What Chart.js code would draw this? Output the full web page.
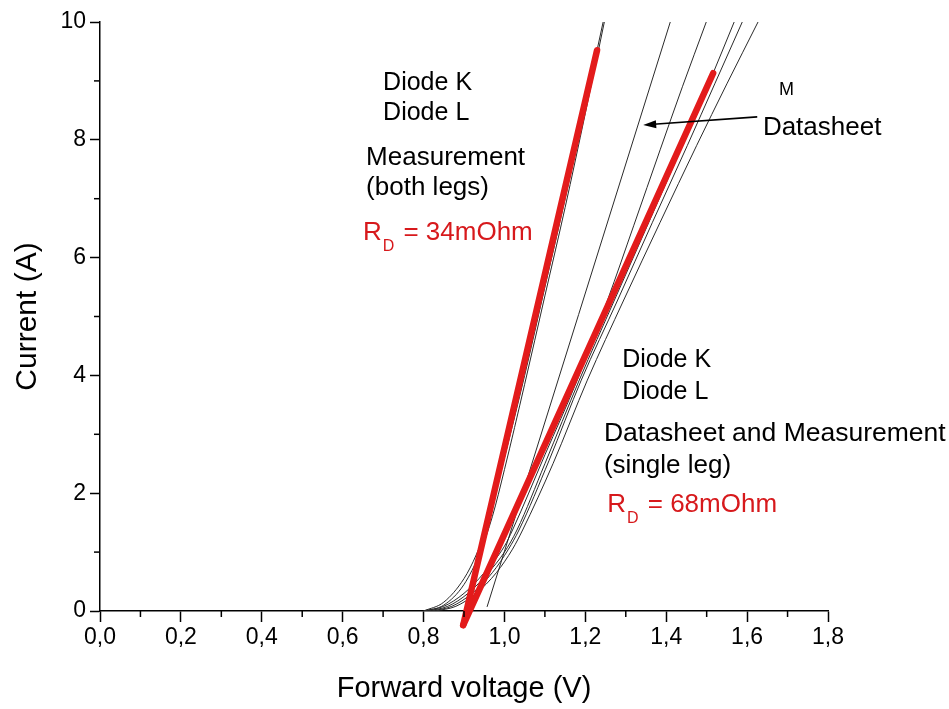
<!DOCTYPE html>
<html><head><meta charset="utf-8">
<script src="https://cdn.jsdelivr.net/npm/chart.js@4.4.1/dist/chart.umd.min.js"></script>
<style>html,body{margin:0;padding:0;background:#fff;}#wrap{width:949px;height:709px;position:relative}</style>
</head><body><div id="wrap"><canvas id="c" width="949" height="709"></canvas></div>
<script>
// ---- Data (forward voltage V, current A) ----
const fitBothLegsV   = [0.898, 1.229];
const fitBothLegsI   = [-0.24, 9.52];
const fitSingleLegV  = [0.898, 1.516];
const fitSingleLegI  = [-0.24, 9.13];

const bothKV = [0.80,0.85,0.90,0.93,0.96,1.00,1.05,1.10,1.15,1.20,1.244];
const bothKI = [0,0.15,0.55,0.95,1.5,2.6,4.0,5.5,7.0,8.6,10];
const bothLV = [0.80,0.85,0.90,0.94,0.97,1.00,1.05,1.10,1.15,1.20,1.247];
const bothLI = [0,0.1,0.45,1.0,1.6,2.4,3.85,5.35,6.85,8.45,10];

const datasheetMV = [0.957, 1.41];
const datasheetMI = [0.07, 10];

const single1V = [0.80,0.85,0.90,0.95,1.00,1.02,1.10,1.18,1.255,1.32,1.385,1.44,1.499];
const single1I = [0,0.08,0.3,0.65,1.1,1.375,2.65,3.92,5.28,6.55,7.83,8.9,10];
const single2V = [0.81,0.86,0.91,0.96,1.00,1.031,1.10,1.185,1.272,1.357,1.44,1.505,1.568];
const single2I = [0,0.08,0.3,0.65,1.0,1.375,2.5,3.92,5.28,6.6,7.9,8.95,10];
const single3V = [0.82,0.87,0.92,0.97,1.01,1.036,1.11,1.19,1.28,1.366,1.452,1.52,1.588];
const single3I = [0,0.08,0.3,0.65,1.05,1.375,2.55,3.92,5.28,6.6,7.9,8.95,10];
const single4V = [0.83,0.88,0.93,0.98,1.02,1.045,1.12,1.205,1.295,1.385,1.475,1.55,1.627];
const single4I = [0,0.08,0.3,0.65,1.05,1.375,2.5,3.92,5.28,6.6,7.9,8.95,10];

const xMin = 0, xMax = 1.8, xStep = 0.2;
const yMin = 0, yMax = 10, yStep = 2;

// ---- Annotation texts (anchored in data coordinates) ----
const FONT = '"Liberation Sans", Arial, Helvetica, sans-serif';
const RED_TXT = '#d7191c';
const labels = [
  {text:'Diode K', x:0.700, y:8.96, size:25, color:'#000'},
  {text:'Diode L', x:0.700, y:8.455, size:25, color:'#000'},
  {text:'Measurement', x:0.658, y:7.69, size:26, color:'#000'},
  {text:'(both legs)', x:0.658, y:7.18, size:26, color:'#000'},
  {text:'R', sub:'D', rest:' = 34mOhm', x:0.650, y:6.42, size:26, color:RED_TXT},
  {text:'M', x:1.679, y:8.85, size:18, color:'#000'},
  {text:'Datasheet', x:1.639, y:8.2, size:26, color:'#000'},
  {text:'Diode K', x:1.291, y:4.26, size:25, color:'#000'},
  {text:'Diode L', x:1.291, y:3.72, size:25, color:'#000'},
  {text:'Datasheet and Measurement', x:1.246, y:3.005, size:26.5, color:'#000'},
  {text:'(single leg)', x:1.246, y:2.46, size:26, color:'#000'},
  {text:'R', sub:'D', rest:' = 68mOhm', x:1.254, y:1.80, size:26, color:RED_TXT}
];
const arrow = {fromX:1.625, fromY:8.39, toX:1.343, toY:8.25};

function pts(vs, is){ return vs.map((v,i)=>({x:v, y:is[i]})); }

const RED = '#e31b1b';
const THIN = '#2a2a2a';
function redSet(v,i){ return {data:pts(v,i), borderColor:RED, borderWidth:6.5, pointRadius:0, tension:0, clip:false, borderCapStyle:'round'}; }
function thinSet(v,i){ return {data:pts(v,i), borderColor:THIN, borderWidth:1, pointRadius:0, cubicInterpolationMode:'monotone'}; }

const datasets = [
  redSet(fitBothLegsV, fitBothLegsI),
  redSet(fitSingleLegV, fitSingleLegI),
  thinSet(bothKV, bothKI),
  thinSet(bothLV, bothLI),
  thinSet(datasheetMV, datasheetMI),
  thinSet(single1V, single1I),
  thinSet(single2V, single2I),
  thinSet(single3V, single3I),
  thinSet(single4V, single4I)
];

const minorTicks = {
  id:'minorTicks',
  afterDraw(chart){
    const {ctx} = chart; const xs = chart.scales.x, ys = chart.scales.y;
    ctx.save(); ctx.strokeStyle='#000'; ctx.lineWidth=1.5;
    const xt = xs.ticks.map(t=>t.value);
    for (let k=0;k<xt.length-1;k++){
      const p = xs.getPixelForValue((xt[k]+xt[k+1])/2);
      ctx.beginPath(); ctx.moveTo(p, xs.top); ctx.lineTo(p, xs.top+6); ctx.stroke();
    }
    const yt = ys.ticks.map(t=>t.value);
    for (let k=0;k<yt.length-1;k++){
      const p = ys.getPixelForValue((yt[k]+yt[k+1])/2);
      ctx.beginPath(); ctx.moveTo(ys.right, p); ctx.lineTo(ys.right-6, p); ctx.stroke();
    }
    ctx.restore();
  }
};

const annotations = {
  id:'annotations',
  afterDatasetsDraw(chart){
    const {ctx} = chart; const xs = chart.scales.x, ys = chart.scales.y;
    ctx.save();
    ctx.textBaseline='middle'; ctx.textAlign='left';
    labels.forEach(t=>{
      const px = xs.getPixelForValue(t.x), py = ys.getPixelForValue(t.y);
      ctx.fillStyle = t.color;
      ctx.font = t.size+'px '+FONT;
      ctx.fillText(t.text, px, py);
      if (t.sub){
        let w = ctx.measureText(t.text).width;
        ctx.font = Math.round(t.size*0.62)+'px '+FONT;
        ctx.fillText(t.sub, px+w+1, py+14);
        w += 3 + ctx.measureText(t.sub).width;
        ctx.font = t.size+'px '+FONT;
        ctx.fillText(t.rest, px+w, py);
      }
    });
    // arrow
    const x1 = xs.getPixelForValue(arrow.fromX), y1 = ys.getPixelForValue(arrow.fromY);
    const x2 = xs.getPixelForValue(arrow.toX), y2 = ys.getPixelForValue(arrow.toY);
    const ang = Math.atan2(y2-y1, x2-x1);
    const hl = 13, hw = 4;
    ctx.strokeStyle='#000'; ctx.fillStyle='#000'; ctx.lineWidth=1.6;
    ctx.beginPath(); ctx.moveTo(x1,y1); ctx.lineTo(x2 - Math.cos(ang)*hl*0.8, y2 - Math.sin(ang)*hl*0.8); ctx.stroke();
    ctx.beginPath();
    ctx.moveTo(x2,y2);
    ctx.lineTo(x2 - Math.cos(ang)*hl - Math.sin(ang)*hw, y2 - Math.sin(ang)*hl + Math.cos(ang)*hw);
    ctx.lineTo(x2 - Math.cos(ang)*hl + Math.sin(ang)*hw, y2 - Math.sin(ang)*hl - Math.cos(ang)*hw);
    ctx.closePath(); ctx.fill();
    ctx.restore();
  }
};

new Chart(document.getElementById('c'), {
  type:'line',
  data:{datasets},
  options:{
    responsive:false, animation:false, devicePixelRatio:1,
    layout:{padding:{top:22, right:121, left:0, bottom:0}},
    plugins:{legend:{display:false}, tooltip:{enabled:false}},
    scales:{
      x:{type:'linear', min:xMin, max:xMax,
         ticks:{stepSize:xStep, color:'#000', padding:2, font:{family:FONT, size:23},
                callback:(v)=>Number(v).toFixed(1).replace('.',',')},
         grid:{drawOnChartArea:false, drawTicks:true, tickLength:11, color:'#000', tickColor:'#000', tickWidth:1.5},
         border:{display:true, color:'#000', width:1.5},
         title:{display:true, text:'Forward voltage (V)', color:'#000', font:{family:FONT, size:29}, padding:{top:4,bottom:3}},
         afterFit(s){ s.height = 98; }
      },
      y:{type:'linear', min:yMin, max:yMax,
         ticks:{stepSize:yStep, color:'#000', padding:4, font:{family:FONT, size:23}},
         grid:{drawOnChartArea:false, drawTicks:true, tickLength:10, color:'#000', tickColor:'#000', tickWidth:1.5},
         border:{display:true, color:'#000', width:1.5},
         title:{display:true, text:'Current (A)', color:'#000', font:{family:FONT, size:30}, padding:{top:10,bottom:4}},
         afterFit(s){ s.width = 100; }
      }
    }
  },
  plugins:[minorTicks, annotations]
});
</script></body></html>
